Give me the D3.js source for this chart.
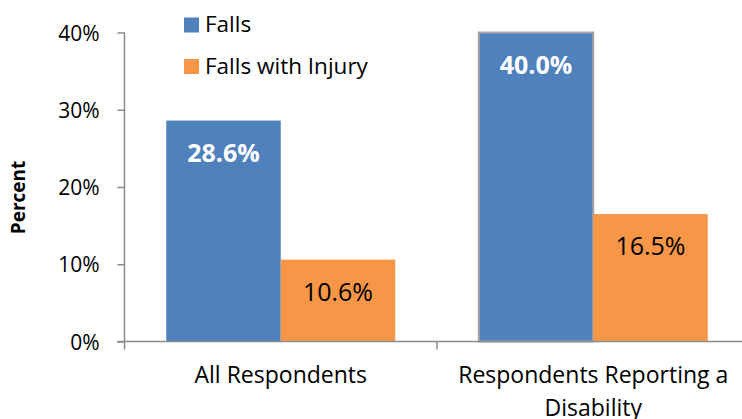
<!DOCTYPE html>
<html>
<head>
<meta charset="utf-8">
<script src="https://cdn.jsdelivr.net/npm/d3@7"></script>
<style>
  html, body { margin: 0; padding: 0; background: #fff; }
  svg { display: block; font-family: "Open Sans", sans-serif; }
</style>
</head>
<body>
<svg id="chart" width="742" height="419"></svg>
<script>
const categories = [["All Respondents"], ["Respondents Reporting a", "Disability"]];
const categoryKeys = ["All Respondents", "Respondents Reporting a Disability"];
const seriesNames = ["Falls", "Falls with Injury"];
const fallsValues = [28.6, 40.0];
const injuryValues = [10.6, 16.5];
const yTicks = [0, 10, 20, 30, 40];
const colors = ["#4f81bd", "#f79646"];

const svg = d3.select("#chart");
const x0 = d3.scaleBand().domain(categoryKeys).range([124.5, 749.5]).paddingInner(0).paddingOuter(0);
const x1 = d3.scaleBand().domain(seriesNames).range([0, x0.bandwidth()]).paddingInner(0).paddingOuter(0.365);
const y = d3.scaleLinear().domain([0, 40]).range([341.5, 32.5]);

const data = categoryKeys.map((c, i) => ({ cat: c, vals: [fallsValues[i], injuryValues[i]] }));

// Bars
const groups = svg.selectAll("g.cat").data(data).join("g").attr("class", "cat")
  .attr("transform", d => `translate(${x0(d.cat)},0)`);

groups.selectAll("rect").data(d => d.vals.map((v, j) => ({ v, s: seriesNames[j], j, cat: d.cat })))
  .join("rect")
  .attr("x", d => x1(d.s))
  .attr("y", d => y(d.v))
  .attr("width", x1.bandwidth())
  .attr("height", d => y(0) - y(d.v))
  .attr("fill", d => colors[d.j])
  .attr("stroke", d => (d.v >= 40 ? "#a6a6a6" : "none"))
  .attr("stroke-width", 2);

// Bar labels
groups.selectAll("text.val").data(d => d.vals.map((v, j) => ({ v, s: seriesNames[j], j })))
  .join("text").attr("class", "val")
  .attr("x", d => x1(d.s) + x1.bandwidth() / 2)
  .attr("y", d => y(d.v) + 41)
  .attr("text-anchor", "middle")
  .attr("font-size", 25)
  .attr("font-weight", d => d.j === 0 ? "bold" : "normal")
  .attr("fill", d => d.j === 0 ? "#fff" : "#000")
  .text(d => d.v.toFixed(1) + "%");

// Y axis
const yAxis = d3.axisLeft(y).tickValues(yTicks).tickSize(7).tickFormat(d => d + "%");
const gy = svg.append("g").attr("transform", `translate(124.5,0)`).call(yAxis);
gy.select(".domain").attr("stroke", "#8c8c8c").attr("stroke-width", 1.5).attr("d", "M0,32.5V341.5");
gy.selectAll(".tick line").attr("stroke", "#8c8c8c").attr("stroke-width", 1.5);
gy.selectAll(".tick text").attr("font-size", 21).attr("fill", "#000").attr("x", -25).attr("dy", "0.36em")
  .attr("font-family", "Open Sans, sans-serif");

// X axis
const gx = svg.append("g").attr("transform", `translate(0,341.5)`);
gx.append("line").attr("x1", 117).attr("x2", 742).attr("y1", 0).attr("y2", 0)
  .attr("stroke", "#8c8c8c").attr("stroke-width", 1.5);
const xTickPos = [x0(categoryKeys[0]), x0(categoryKeys[1]), x0(categoryKeys[1]) + x0.bandwidth()];
gx.selectAll("line.xt").data(xTickPos).join("line").attr("class", "xt")
  .attr("x1", d => d).attr("x2", d => d).attr("y1", 0).attr("y2", 8)
  .attr("stroke", "#8c8c8c").attr("stroke-width", 1.5);

// Category labels
categoryKeys.forEach((c, i) => {
  const t = svg.append("text")
    .attr("x", x0(c) + x0.bandwidth() / 2)
    .attr("y", 383)
    .attr("text-anchor", "middle")
    .attr("font-size", 23)
    .attr("fill", "#000");
  categories[i].forEach((line, k) => {
    t.append("tspan").attr("x", x0(c) + x0.bandwidth() / 2).attr("dy", k === 0 ? 0 : 33).text(line);
  });
});

// Y axis title
svg.append("text")
  .attr("transform", "translate(25,197.5) rotate(-90)")
  .attr("text-anchor", "middle")
  .attr("font-size", 19)
  .attr("font-weight", "bold")
  .attr("fill", "#000")
  .text("Percent");

// Legend
const legend = svg.append("g");
seriesNames.forEach((s, i) => {
  legend.append("rect").attr("x", 184).attr("y", 17.5 + i * 41.5).attr("width", 15).attr("height", 15)
    .attr("fill", colors[i]);
  legend.append("text").attr("x", 205).attr("y", 32 + i * 41.5).attr("font-size", 22.5).attr("fill", "#000").text(s);
});
</script>
</body>
</html>
